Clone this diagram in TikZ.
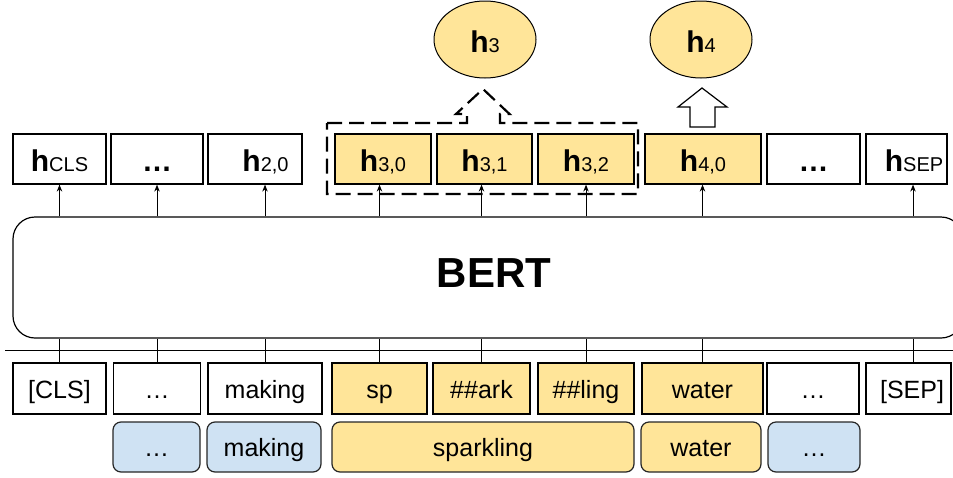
\documentclass[tikz,border=0pt]{standalone}
\usepackage{fontspec}
\setmainfont{Liberation Sans}
\usetikzlibrary{shapes.geometric,arrows.meta}
\definecolor{yel}{HTML}{FFE599}
\definecolor{blu}{HTML}{CFE2F3}
\newcommand\tokfont{\fontsize{25}{30}\selectfont}
\newcommand\bigfont{\fontsize{30}{36}\selectfont\bfseries}
\newcommand\subfont{\fontsize{20}{24}\selectfont\mdseries}
\newcommand\hsub[1]{{\bigfont h}{\subfont #1}}
\tikzset{
  hbox/.style={draw=black, line width=1.2pt, minimum height=50pt, inner sep=0pt},
  tokbox/.style={draw=black, line width=1.2pt, minimum height=51pt, inner sep=0pt},
  wordbox/.style={draw=black!85, line width=1.2pt, rounded corners=8pt, minimum height=50pt, inner sep=0pt},
  txt/.style={anchor=base, inner sep=0pt, font=\tokfont},
  htxt/.style={anchor=base, inner sep=0pt},
  uparrow/.style={line width=1pt, -{Stealth[length=7pt,width=5.5pt]}},
  conn/.style={line width=1pt},
}
\begin{document}
\begin{tikzpicture}[x=1pt,y=-1pt]
\useasboundingbox (0,0) rectangle (953,477);
% BERT box (partly beyond the right edge)
\begin{scope}
\clip (0,0) rectangle (953,477);
\node[draw=black, line width=1.2pt, rounded corners=22pt, minimum width=950pt, minimum height=121pt, inner sep=0pt] (bert) at (488,277.5) {};
\coordinate (hl) at (5,350);
\coordinate (hr) at (960,350);
\draw[conn] (hl) -- (hr);
\end{scope}
\node[anchor=base, inner sep=0pt, font=\fontsize{42}{50}\selectfont\bfseries] (berttxt) at (494,287) {BERT};

% top ellipses
\node[ellipse, draw=black, line width=1pt, fill=yel, minimum width=102pt, minimum height=77pt, inner sep=0pt] (e3) at (485,39.5) {};
\node[htxt] (e3t) at (485,52) {\hsub{3}};
\node[ellipse, draw=black, line width=1pt, fill=yel, minimum width=102pt, minimum height=77pt, inner sep=0pt] (e4) at (701,39.5) {};
\node[htxt] (e4t) at (701,52) {\hsub{4}};

% hidden-state boxes
\node[hbox, minimum width=93pt] (hcls) at (59.5,159) {};
\node[hbox, minimum width=92pt] (hd1) at (157,159) {};
\node[hbox, minimum width=94pt] (h20) at (255,159) {};
\node[hbox, fill=yel, minimum width=96pt] (h30) at (383,159) {};
\node[hbox, fill=yel, minimum width=95pt] (h31) at (484.5,159) {};
\node[hbox, fill=yel, minimum width=96pt] (h32) at (586,159) {};
\node[hbox, fill=yel, minimum width=116pt] (h40) at (703,159) {};
\node[hbox, minimum width=93pt] (hd2) at (813.5,159) {};
\node[hbox, minimum width=81pt] (hsep) at (906.5,159) {};

% token boxes
\node[tokbox, minimum width=93pt] (tcls) at (59.5,388.5) {};
\node[tokbox, minimum width=87pt] (td1) at (157,388.5) {};
\node[tokbox, minimum width=114pt] (tmak) at (265,388.5) {};
\node[tokbox, fill=yel, minimum width=95pt] (tsp) at (379.5,388.5) {};
\node[tokbox, fill=yel, minimum width=97pt] (tark) at (481.5,388.5) {};
\node[tokbox, fill=yel, minimum width=96pt] (tling) at (586,388.5) {};
\node[tokbox, fill=yel, minimum width=121pt] (twat) at (702.5,388.5) {};
\node[tokbox, minimum width=92pt] (td2) at (813,388.5) {};
\node[tokbox, minimum width=85pt] (tsep) at (908.5,388.5) {};

% word boxes
\node[wordbox, fill=blu, minimum width=87pt] (wd1) at (156.5,447) {};
\node[wordbox, fill=blu, minimum width=114pt] (wmak) at (264,447) {};
\node[wordbox, fill=yel, minimum width=302pt] (wspark) at (483,447) {};
\node[wordbox, fill=yel, minimum width=120pt] (wwat) at (701,447) {};
\node[wordbox, fill=blu, minimum width=92pt] (wd2) at (814,447) {};

% texts: hidden states
\node[htxt] (lhcls) at (59.5,171) {\hsub{CLS}};
\node[htxt] (lhd1) at (157,171) {\bigfont …};
\node[htxt] (lh20) at (265.5,171) {\hsub{2,0}};
\node[htxt] (lh30) at (383,171) {\hsub{3,0}};
\node[htxt] (lh31) at (484.5,171) {\hsub{3,1}};
\node[htxt] (lh32) at (586,171) {\hsub{3,2}};
\node[htxt] (lh40) at (703,171) {\hsub{4,0}};
\node[htxt] (lhd2) at (813.5,171) {\bigfont …};
\node[htxt] (lhsep) at (914,171) {\hsub{SEP}};

% texts: tokens
\node[txt] (ltcls) at (59.5,398) {[CLS]};
\node[txt] (ltd1) at (157,398) {…};
\node[txt] (ltmak) at (265,398) {making};
\node[txt] (ltsp) at (379.5,398) {sp};
\node[txt] (ltark) at (481.5,398) {\#\#ark};
\node[txt] (ltling) at (586,398) {\#\#ling};
\node[txt] (ltwat) at (702.5,398) {water};
\node[txt] (ltd2) at (813,398) {…};
\node[txt] (ltsep) at (912,398) {[SEP]};

% texts: words
\node[txt] (lwd1) at (156.5,456.5) {…};
\node[txt] (lwmak) at (264,456.5) {making};
\node[txt] (lwspark) at (483,456.5) {sparkling};
\node[txt] (lwwat) at (701,456.5) {water};
\node[txt] (lwd2) at (814,456.5) {…};

% connectors token -> BERT
\foreach \t in {tcls,td1,tmak,tsp,tark,tling,twat}
  \draw[conn] (\t.north) -- (\t.north |- bert.south);
\coordinate (sepx) at (913,363);
\draw[conn] (sepx) -- (sepx |- bert.south);

% arrows BERT -> hidden states
\draw[uparrow] (tcls.north |- bert.north) -- (tcls.north |- hcls.south);
\draw[uparrow] (td1.north |- bert.north) -- (td1.north |- hd1.south);
\draw[uparrow] (tmak.north |- bert.north) -- (tmak.north |- h20.south);
\draw[uparrow] (tsp.north |- bert.north) -- (tsp.north |- h30.south);
\draw[uparrow] (tark.north |- bert.north) -- (tark.north |- h31.south);
\draw[uparrow] (tling.north |- bert.north) -- (tling.north |- h32.south);
\draw[uparrow] (twat.north |- bert.north) -- (twat.north |- h40.south);
\draw[uparrow] (sepx |- bert.north) -- (sepx |- hsep.south);

% dashed group with dashed block arrow
\draw[line width=2.2pt, dash pattern=on 15pt off 7pt, line join=miter]
  (327,123) -- (467,123) -- (467,114) -- (456,114) -- (483,89) -- (509.5,114)
  -- (500,114) -- (500,123) -- (638,123) -- (638,194) -- (327,194) -- cycle;

% solid block arrow to h4
\draw[line width=1.2pt, fill=white, line join=miter]
  (690,127) -- (690,107) -- (678,107) -- (702,88) -- (727,107) -- (715,107) -- (715,127) -- cycle;
\end{tikzpicture}
\end{document}
